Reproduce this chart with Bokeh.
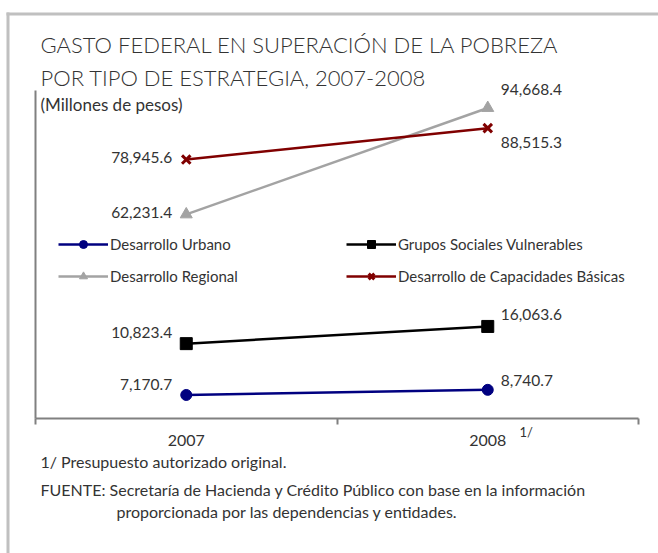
from bokeh.plotting import figure
from bokeh.models import (Range1d, FixedTicker, Label, LabelSet, BoxAnnotation,
                          ColumnDataSource, Legend, LegendItem)
from bokeh.core.properties import value
from bokeh.embed import file_html
from bokeh.resources import INLINE

# ---------------- data ----------------
years = ["2007", "2008"]
urbano = [7170.7, 8740.7]
grupos = [10823.4, 16063.6]
regional = [62231.4, 94668.4]
capacidades = [78945.6, 88515.3]
series_names = ["Desarrollo Urbano", "Grupos Sociales Vulnerables",
                "Desarrollo Regional", "Desarrollo de Capacidades Básicas"]
y_axis_max = 100000
grupos_shift = -12000   # the reference draws this series on a shifted baseline

title_lines = ["GASTO FEDERAL EN SUPERACIÓN DE LA POBREZA",
               "POR TIPO DE ESTRATEGIA, 2007-2008"]
subtitle = "(Millones de pesos)"
note_mark = "1/"
footnotes = ["1/ Presupuesto autorizado original.",
             "FUENTE: Secretaría de Hacienda y Crédito Público con base en la información",
             "proporcionada por las dependencias y entidades."]

# ---------------- layout / styles ----------------
FONT = "Lato"
LIGHT = "Lato Light"
TXT = "#333333"
AX = "#808080"
W, H = 658, 553
OX, OY = 0, 0                   # canvas origin on the picture
AX_L, AX_R = 35, 638            # x of x-axis ends
AX_B, AX_T = 418, 90            # y of y-axis ends

ncat = len(years)
ppx = (AX_R - AX_L) / ncat
ppy = (AX_B - AX_T) / y_axis_max

def xd(px):
    return (px - AX_L) / ppx

def yd(py):
    return (AX_B - py) / ppy

def sx(px):                     # picture x -> frame screen x
    return px - OX

def sy(py):                     # picture y -> frame screen y (from bottom)
    return OY + H - py

x_range = Range1d(xd(OX), xd(OX + W))
y_range = Range1d(yd(OY + H), yd(OY))

p = figure(width=W, height=H, output_backend="svg", toolbar_location=None,
           x_range=x_range, y_range=y_range,
           min_border=0, min_border_left=0, min_border_right=0,
           min_border_top=0, min_border_bottom=0)
p.title.visible = False
p.extra_y_ranges = {"grupos": Range1d(y_range.start + grupos_shift,
                                      y_range.end + grupos_shift)}
p.grid.visible = False
p.outline_line_color = None
p.background_fill_color = "white"
p.border_fill_color = "white"

xs = [i + 0.5 for i in range(ncat)]

ax = p.xaxis[0]
ax.fixed_location = 0
ax.bounds = (0, ncat)
ax.ticker = FixedTicker(ticks=xs, minor_ticks=list(range(ncat + 1)))
ax.major_label_overrides = {x: y for x, y in zip(xs, years)}
ax.major_tick_line_color = None
ax.major_tick_in = 0
ax.major_tick_out = 0
ax.minor_tick_in = 0
ax.minor_tick_out = 6
ax.minor_tick_line_color = AX
ax.minor_tick_line_width = 2
ax.axis_line_color = AX
ax.axis_line_width = 2
ax.major_label_standoff = 10
ax.major_label_text_font = FONT
ax.major_label_text_font_size = "16px"
ax.major_label_text_color = TXT

ay = p.yaxis[0]
ay.fixed_location = 0
ay.bounds = (0, y_axis_max)
ay.ticker = FixedTicker(ticks=[])
ay.major_tick_line_color = None
ay.minor_tick_line_color = None
ay.major_label_text_font_size = "0px"
ay.axis_line_color = AX
ay.axis_line_width = 2

# grey frame of the original figure
GREY = "#c0c0c0"
p.add_layout(BoxAnnotation(left=xd(6), right=xd(9), top=yd(12), bottom=yd(OY + H + 10),
                           fill_color=GREY, fill_alpha=1, line_alpha=0))
p.add_layout(BoxAnnotation(left=xd(6), right=xd(OX + W + 10), top=yd(12), bottom=yd(15),
                           fill_color=GREY, fill_alpha=1, line_alpha=0))

values = [urbano, grupos, regional, capacidades]
colors = ["#000080", "#000000", "#a3a3a3", "#800000"]
markers = ["circle", "square", "triangle", "x"]
sizes = [11, 12, 12, 12]
ranges = ["default", "grupos", "default", "default"]
x_offs = [[-14, 13], [-14, 13], [-14, 13], [-14, 13]]
y_offs = [[10, 9], [11, 12], [2, 18], [2, -14]]
aligns = ["right", "left"]

items = []
for name, vals, c, m, s, rn, xo, yo in zip(series_names, values, colors, markers,
                                           sizes, ranges, x_offs, y_offs):
    src = ColumnDataSource(dict(x=xs, y=vals, text=[f"{v:,.1f}" for v in vals],
                                xo=xo, yo=yo, align=aligns))
    lr = p.line("x", "y", source=src, line_color=c, line_width=2.5, y_range_name=rn)
    sr = p.scatter("x", "y", source=src, marker=m, size=s, fill_color=c, line_color=c,
                   line_width=3 if m == "x" else 1, y_range_name=rn)
    p.add_layout(LabelSet(x="x", y="y", text="text", source=src, y_range_name=rn,
                          x_offset="xo", y_offset="yo", text_align="align",
                          text_baseline="middle", text_font=value(FONT),
                          text_font_size=value("15.5px"), text_color=TXT))
    items.append(LegendItem(label=name, renderers=[lr, sr]))

legend = Legend(items=items, location=(sx(58), sy(286)), orientation="horizontal", ncols=2,
                glyph_width=50, glyph_height=20, label_standoff=2, label_width=224,
                label_height=20, spacing=12, padding=0, margin=0,
                background_fill_alpha=0, border_line_color=None,
                label_text_font=FONT, label_text_font_size="15px",
                label_text_color=TXT)
p.add_layout(legend)

def lab(text, px, py, size, font=FONT):
    p.add_layout(Label(x=sx(px), y=sy(py), x_units="screen", y_units="screen",
                       text=text, text_font=font, text_font_size=size,
                       text_color=TXT, text_baseline="middle", text_align="left"))

lab(title_lines[0], 40, 44, "22px", LIGHT)
lab(title_lines[1], 40, 77, "22px", LIGHT)
lab(subtitle, 40, 104, "17px")
lab(footnotes[0], 40, 461, "16px")
lab(footnotes[1], 40, 489, "16px")
lab(footnotes[2], 116, 511, "16px")
lab(note_mark, 519, 431, "13px")

open("out.html", "w").write(file_html(p, INLINE))
